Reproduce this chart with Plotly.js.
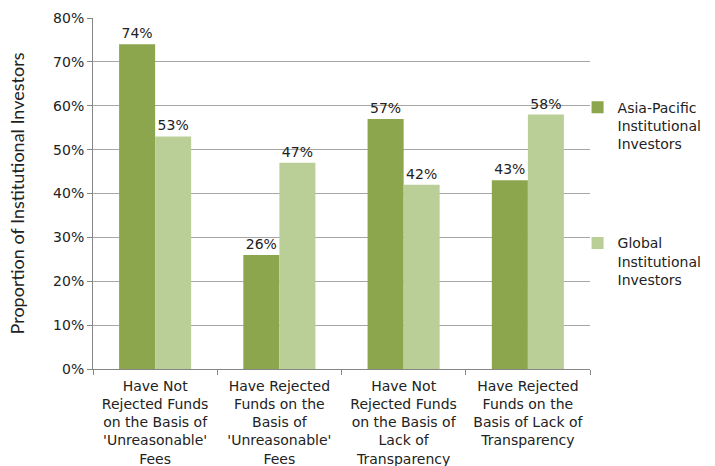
<!DOCTYPE html>
<html><head><meta charset="utf-8">
<script src="https://cdn.plot.ly/plotly-3.0.1.min.js"></script>
<style>html,body{margin:0;padding:0;background:#fff}#c{width:715px;height:466px}</style>
</head><body><div id="c"></div>
<script>
const categories = [
  "Have Not<br>Rejected Funds<br>on the Basis of<br>'Unreasonable'<br>Fees",
  "Have Rejected<br>Funds on the<br>Basis of<br>'Unreasonable'<br>Fees",
  "Have Not<br>Rejected Funds<br>on the Basis of<br>Lack of<br>Transparency",
  "Have Rejected<br>Funds on the<br>Basis of Lack of<br>Transparency"
];
const seriesNames = ["Asia-Pacific<br>Institutional<br>Investors", "Global<br>Institutional<br>Investors"];
const asiaPacific = [74, 26, 57, 43];
const global = [53, 47, 42, 58];
const yTicks = [0,10,20,30,40,50,60,70,80];

const font = "'DejaVu Sans', sans-serif";
const tfont = "Lato, 'Liberation Sans', sans-serif";
const mk = (name, vals, color, grp) => ({
  type: 'bar', name: name, x: categories, y: vals,
  marker: {color: color}, legendgroup: grp,
  text: vals.map(v => v + '%'), textposition: 'outside', cliponaxis: false,
  textfont: {family: font, size: 14, color: '#222'},
  hoverinfo: 'none'
});
const data = [
  mk(seriesNames[0], asiaPacific, '#8BA64C', 'a'),
  mk(seriesNames[1], global, '#BACF97', 'b')
];
const layout = {
  width: 715, height: 466,
  margin: {l: 93, r: 125, t: 18, b: 97, autoexpand: false},
  paper_bgcolor: '#fff', plot_bgcolor: '#fff',
  font: {family: font, size: 14, color: '#222'},
  barmode: 'group', bargap: 0.42, bargroupgap: 0,
  xaxis: {
    showline: true, linecolor: '#868686', linewidth: 1,
    ticks: 'outside', ticklen: 5, tickcolor: '#868686', tickson: 'boundaries',
    ticklabelstandoff: 4, tickangle: 0, automargin: false,
    tickfont: {family: font, size: 14, color: '#222'}
  },
  yaxis: {
    range: [0, 80], tickvals: yTicks, ticktext: yTicks.map(v => v + '%'),
    showline: true, linecolor: '#868686', linewidth: 1,
    ticks: 'outside', ticklen: 5, tickcolor: '#868686',
    gridcolor: '#a6a6a6', gridwidth: 1, zeroline: false, automargin: false,
    tickfont: {family: font, size: 14, color: '#222'},
    title: {text: 'Proportion of Institutional Investors', font: {family: tfont, size: 18, color: '#222'}, standoff: 23}
  },
  legend: {
    x: 0.975, xanchor: 'left', y: 0.79, yanchor: 'top',
    bgcolor: 'rgba(0,0,0,0)',
    traceorder: 'grouped', tracegroupgap: 78, valign: 'top',
    font: {family: font, size: 14, color: '#222'},
    itemwidth: 30
  },
  showlegend: true
};
Plotly.newPlot('c', data, layout, {staticPlot: true});
</script></body></html>
